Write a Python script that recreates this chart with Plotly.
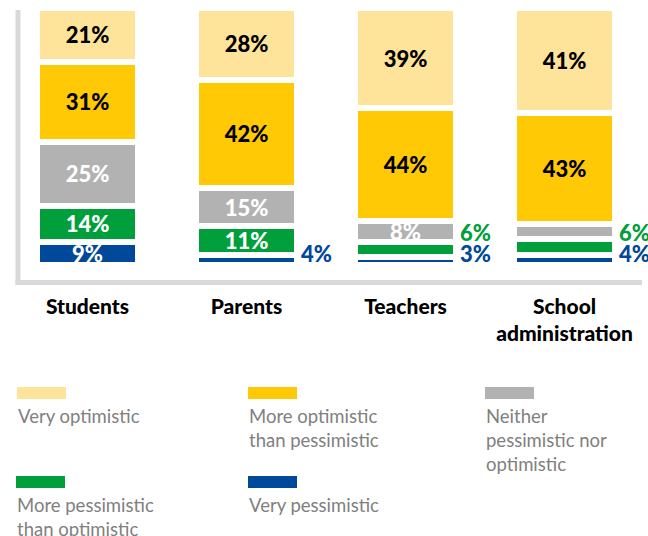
import plotly.graph_objects as go

# Survey groups (x axis) and their tick labels
categories = ["Students", "Parents", "Teachers", "School administration"]
tick_labels = ["Students", "Parents", "Teachers", "School<br>administration"]

# Share of answers per group, in percent (stacked bottom to top)
very_pessimistic = [9, 4, 3, 4]
more_pessimistic = [14, 11, 6, 6]
neither = [25, 15, 8, 6]
more_optimistic = [31, 42, 44, 43]
very_optimistic = [21, 28, 39, 41]

series_names = [
    "Very pessimistic",
    "More pessimistic than optimistic",
    "Neither pessimistic nor optimistic",
    "More optimistic than pessimistic",
    "Very optimistic",
]
legend_labels = [
    "Very pessimistic",
    "More pessimistic<br>than optimistic",
    "Neither<br>pessimistic nor<br>optimistic",
    "More optimistic<br>than pessimistic",
    "Very optimistic",
]
series_values = [very_pessimistic, more_pessimistic, neither, more_optimistic, very_optimistic]
series_colors = ["#00489A", "#009F3C", "#B2B2B2", "#FFCA05", "#FEE49A"]
inside_text_colors = ["white", "white", "white", "black", "black"]
# series whose small values are written beside the bar instead of inside
outside_label_series = {0, 1}

INSIDE_MIN = 8

W, H = 648, 536
ML, MR, MT, MB = 8, 4, 8, 271
PW, PH = W - ML - MR, H - MT - MB


def px_x(px):
    return (px - ML) / PW


def px_y(py):
    return (MT + PH - py) / PH


HEAVY_FONT = "'Lato Black', 'Lato Heavy', Lato, sans-serif"
TEXT_FONT = "Lato, 'Open Sans', sans-serif"

fig = go.Figure()

for i, (name, vals, color, tcol) in enumerate(
    zip(series_names, series_values, series_colors, inside_text_colors)
):
    texts = [f"{v}%" if v >= INSIDE_MIN else "" for v in vals]
    fig.add_trace(
        go.Bar(
            name=name,
            x=list(range(len(categories))),
            y=vals,
            marker=dict(color=color, line=dict(color="white", width=6)),
            text=texts,
            textposition="inside",
            insidetextanchor="middle",
            constraintext="none",
            textangle=0,
            cliponaxis=True,
            textfont=dict(family=HEAVY_FONT, size=22, color=tcol, weight=900),
            hoverinfo="skip",
            showlegend=False,
        )
    )

# small values written to the right of the bar, stacked upwards from the base
for ci in range(len(categories)):
    stack_pos = 0
    for si in sorted(outside_label_series):
        v = series_values[si][ci]
        if v < INSIDE_MIN:
            fig.add_annotation(
                x=ci,
                y=0,
                xref="x",
                yref="y",
                text=f"{v}%",
                showarrow=False,
                xanchor="left",
                yanchor="bottom",
                xshift=52,
                yshift=-4 + 21 * stack_pos,
                font=dict(family=HEAVY_FONT, size=22, color=series_colors[si], weight=900),
            )
            stack_pos += 1

# frame lines on the left and bottom
frame = "#D9D9D9"
fig.add_shape(type="line", xref="paper", yref="paper",
              x0=px_x(18), x1=px_x(18), y0=px_y(10), y1=px_y(285),
              line=dict(color=frame, width=5))
fig.add_shape(type="line", xref="paper", yref="paper",
              x0=px_x(15.5), x1=px_x(642), y0=px_y(282.5), y1=px_y(282.5),
              line=dict(color=frame, width=5))

# legend: swatch above the label, three per row
legend_order = [4, 3, 2, 1, 0]
legend_slots = [(17, 387), (248, 387), (485, 387), (16, 476), (248, 476)]
for si, (lx, ly) in zip(legend_order, legend_slots):
    fig.add_shape(type="rect", xref="paper", yref="paper",
                  x0=px_x(lx), x1=px_x(lx + 49), y0=px_y(ly), y1=px_y(ly + 12),
                  fillcolor=series_colors[si], line=dict(width=0))
    fig.add_annotation(
        xref="paper", yref="paper",
        x=px_x(lx - 1), y=px_y(ly + 16),
        text=legend_labels[si],
        showarrow=False,
        xanchor="left", yanchor="top", align="left",
        font=dict(family=TEXT_FONT, size=18.5, color="#808080"),
    )

fig.update_layout(
    barmode="stack",
    bargap=0.36,
    width=W,
    height=H,
    margin=dict(l=ML, r=MR, t=MT, b=MB, pad=0),
    paper_bgcolor="white",
    plot_bgcolor="white",
    xaxis=dict(
        range=[-0.5, len(categories) - 0.5],
        tickvals=list(range(len(categories))),
        ticktext=tick_labels,
        showgrid=False,
        zeroline=False,
        showline=False,
        ticks="",
        ticklabelstandoff=27,
        tickfont=dict(family=HEAVY_FONT, size=21, color="black", weight=900),
        fixedrange=True,
    ),
    yaxis=dict(range=[0, 100], visible=False, fixedrange=True),
)

fig.write_html("out.html", config={"displayModeBar": False})
